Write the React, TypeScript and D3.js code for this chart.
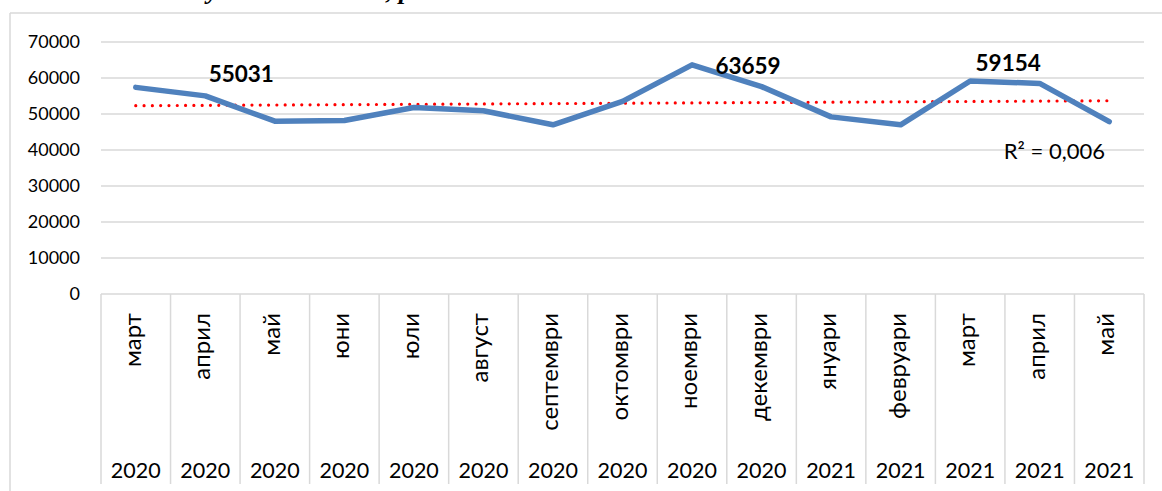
import React from "react";
import * as d3 from "d3";

const months = ["март", "април", "май", "юни", "юли", "август", "септември", "октомври", "ноември", "декември", "януари", "февруари", "март", "април", "май"];
const years = ["2020", "2020", "2020", "2020", "2020", "2020", "2020", "2020", "2020", "2020", "2021", "2021", "2021", "2021", "2021"];
const values = [57400, 55031, 48000, 48200, 51800, 50900, 47000, 53500, 63659, 57600, 49200, 47000, 59154, 58500, 47900];
const yTicks = [0, 10000, 20000, 30000, 40000, 50000, 60000, 70000];
const labeledIdx = [1, 8, 12];
const labelOffsets = [
  { dx: 36, dy: -14 },
  { dx: 56, dy: 9 },
  { dx: 38, dy: -10 },
];
const r2Text = "R² = 0,006";

const W = 1162;
const H = 491;
const FONT = "Lato, 'Open Sans', sans-serif";

export default function App() {
  const left = 101, right = 1144, top = 42, bottom = 294;
  const x = d3.scaleBand<number>().domain(values.map((_, i) => i)).range([left, right]).padding(0);
  const cx = (i: number) => (x(i) as number) + x.bandwidth() / 2;
  const y = d3.scaleLinear().domain([0, 70000]).range([bottom, top]);

  const line = d3.line<number>().x((_, i) => cx(i)).y((d) => y(d));

  // linear trendline (least squares)
  const n = values.length;
  const mx = d3.mean(values.map((_, i) => i)) as number;
  const my = d3.mean(values) as number;
  let sxy = 0, sxx = 0;
  values.forEach((v, i) => { sxy += (i - mx) * (v - my); sxx += (i - mx) * (i - mx); });
  const slope = sxy / sxx;
  const icpt = my - slope * mx;
  const trend = [0, n - 1].map((i) => [cx(i), y(icpt + slope * i)] as [number, number]);

  const grid = "#D9D9D9";
  const dividers = d3.range(n + 1).map((i) => (i < n ? (x(i) as number) : right));

  return (
    <svg width={W} height={H} style={{ position: "absolute", left: 0, top: 0, background: "#fff" }} fontFamily={FONT}>
      <rect x={0} y={0} width={W} height={H} fill="#fff" />
      {/* clipped document title fragments */}
      <text x={207} y={-1} fontFamily="'Liberation Serif', serif" fontWeight="bold" fontStyle="italic" fontSize={26} fill="#000">у</text>
      <text x={386} y={-1} fontFamily="'Liberation Serif', serif" fontWeight="bold" fontStyle="italic" fontSize={26} fill="#000">, р</text>
      {/* chart border */}
      <line x1={10} y1={13} x2={W} y2={13} stroke={grid} strokeWidth={1.5} />
      <line x1={10} y1={13} x2={10} y2={H} stroke={grid} strokeWidth={1.5} />
      {/* gridlines */}
      {yTicks.map((t) => (
        <line key={t} x1={left} x2={right} y1={y(t)} y2={y(t)} stroke={grid} strokeWidth={1.5} />
      ))}
      {yTicks.map((t) => (
        <text key={"l" + t} x={80} y={y(t)} dy="0.36em" textAnchor="end" fontSize={18} fill="#000">{t}</text>
      ))}
      {/* category dividers */}
      {dividers.map((dx, i) => (
        <line key={"d" + i} x1={dx} x2={dx} y1={bottom} y2={484} stroke={grid} strokeWidth={1.5} />
      ))}
      {months.map((m, i) => (
        <text key={"m" + i} transform={`translate(${cx(i) + 5},313) rotate(-90)`} textAnchor="end" fontSize={24} fill="#000">{m}</text>
      ))}
      {years.map((yr, i) => (
        <text key={"y" + i} x={cx(i)} y={477.5} textAnchor="middle" fontSize={21.5} fill="#000">{yr}</text>
      ))}
      {/* trendline */}
      <line x1={trend[0][0]} y1={trend[0][1]} x2={trend[1][0]} y2={trend[1][1]} stroke="#FF0000" strokeWidth={3.2} strokeDasharray="0 8.3" strokeLinecap="round" />
      {/* series */}
      <path d={line(values) || ""} fill="none" stroke="#4F81BD" strokeWidth={5.5} strokeLinejoin="round" strokeLinecap="round" />
      {labeledIdx.map((idx, k) => (
        <text key={"v" + idx} x={cx(idx) + labelOffsets[k].dx} y={y(values[idx]) + labelOffsets[k].dy} textAnchor="middle" fontSize={22.5} fontWeight="bold" fill="#000">{values[idx]}</text>
      ))}
      <text x={1105} y={159} textAnchor="end" fontSize={22} fill="#000">{r2Text}</text>
    </svg>
  );
}
